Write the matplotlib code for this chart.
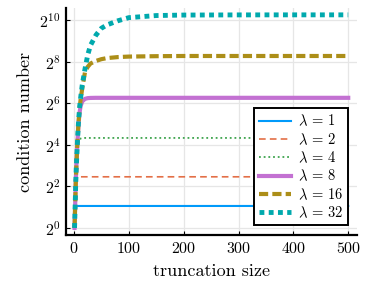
import numpy as np
import matplotlib
matplotlib.use("Agg")
import matplotlib.pyplot as plt
from matplotlib.ticker import FixedLocator, NullLocator

plt.rcParams['font.family'] = 'serif'
plt.rcParams['font.serif'] = ['cmr10']
plt.rcParams['mathtext.fontset'] = 'cm'
plt.rcParams['axes.unicode_minus'] = False
plt.rcParams['axes.formatter.use_mathtext'] = True

# truncation sizes
n = [1, 2, 3, 4, 6, 8, 10, 12, 15, 20, 25, 30, 40, 50, 60, 80, 100, 150, 200, 300, 400, 500]

# condition numbers per lambda
cond_1 = [1, 1.8, 2.0, 2.06, 2.08, 2.08, 2.08, 2.08, 2.08, 2.08, 2.08, 2.08, 2.08, 2.08,
          2.08, 2.08, 2.08, 2.08, 2.08, 2.08, 2.08, 2.08]
cond_2 = [1, 2, 3.5, 4.6, 5.3, 5.45, 5.5, 5.5, 5.5, 5.5, 5.5, 5.5, 5.5, 5.5,
          5.5, 5.5, 5.5, 5.5, 5.5, 5.5, 5.5, 5.5]
cond_4 = [1, 2, 4, 7, 13, 17, 19, 19.7, 20, 20.1, 20.1, 20.1, 20.1, 20.1,
          20.1, 20.1, 20.1, 20.1, 20.1, 20.1, 20.1, 20.1]
cond_8 = [1, 2, 4, 7, 16, 30, 46, 58, 68, 74, 75.8, 76.3, 76.6, 76.6,
          76.6, 76.6, 76.6, 76.6, 76.6, 76.6, 76.6, 76.6]
cond_16 = [1, 2, 4, 7, 16, 32, 52, 72, 105, 180, 215, 240, 262, 278,
           288, 298, 303, 307, 309, 309, 309, 309]
cond_32 = [1, 2, 4, 7, 16, 32, 54, 76, 118, 200, 320, 440, 620, 780,
           870, 1000, 1110, 1190, 1210, 1216, 1218, 1218]

lambdas = [1, 2, 4, 8, 16, 32]
series = [cond_1, cond_2, cond_4, cond_8, cond_16, cond_32]
colors = ['#009AFA', '#E36F47', '#3EA44E', '#C371D2', '#AC8E18', '#00A9AD']
styles = ['-', (0, (4, 2.5)), (0, (1, 1.6)), '-', (0, (2.2, 1.0)), (0, (1, 0.9))]
widths = [1.5, 1.2, 1.3, 3.0, 3.0, 3.5]

fig = plt.figure(figsize=(3.73, 2.89), dpi=100)
ax = fig.add_axes([66 / 373, 1 - 235 / 289, (357 - 66) / 373, (235 - 8) / 289])

for lam, ys, c, ls, lw in zip(lambdas, series, colors, styles, widths):
    ax.plot(n, ys, color=c, linestyle=ls, linewidth=lw, label=rf'$\lambda\,=\,{lam}$')

ax.set_yscale('log', base=2)
ax.set_xlim(-14.6, 516)
ax.set_ylim(2 ** -0.34, 2 ** 10.58)

ax.xaxis.set_major_locator(FixedLocator([0, 100, 200, 300, 400, 500]))
ax.yaxis.set_major_locator(FixedLocator([2 ** k for k in range(0, 11, 2)]))
ax.yaxis.set_minor_locator(NullLocator())
ax.set_yticklabels([rf'$2^{{{k}}}$' for k in range(0, 11, 2)])

ax.grid(True, color='#e6e6e6', linewidth=0.9)
ax.set_axisbelow(True)
for s in ['top', 'right']:
    ax.spines[s].set_visible(False)
for s in ['left', 'bottom']:
    ax.spines[s].set_linewidth(1.6)
ax.tick_params(direction='in', length=3, width=0.8, labelsize=11.5, pad=4)

ax.set_xlabel('truncation size', fontsize=13, labelpad=6)
ax.set_ylabel('condition number', fontsize=13, labelpad=4)

leg = ax.legend(loc='lower right', fontsize=10.5, fancybox=False, framealpha=1,
                edgecolor='black', handlelength=2.2, handletextpad=0.45,
                borderpad=0.35, labelspacing=0.2, bbox_to_anchor=(0.995, 0.01))
leg.get_frame().set_linewidth(1.4)

fig.savefig('out.png', dpi=100)
